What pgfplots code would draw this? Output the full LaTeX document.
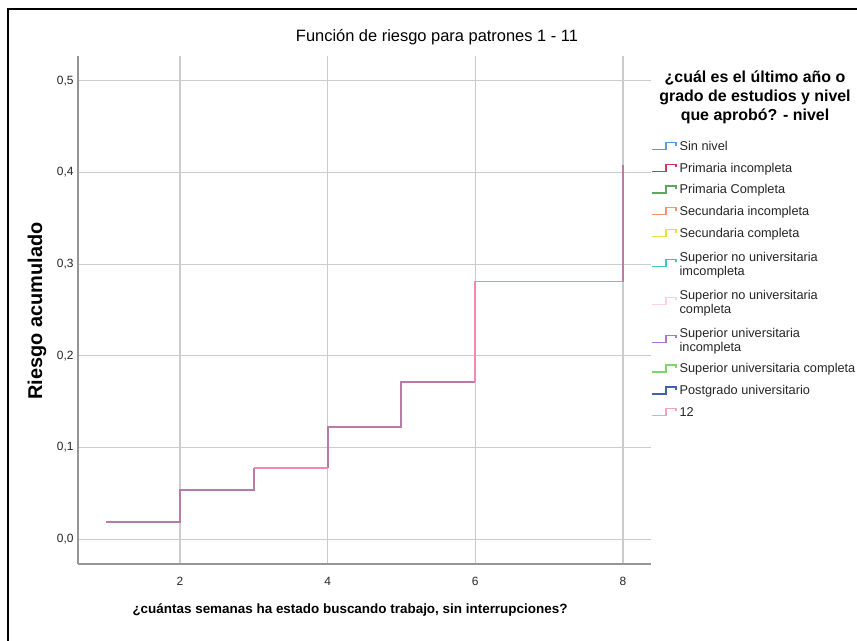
\documentclass[border=0pt]{standalone}
\usepackage{pgfplots}
\pgfplotsset{compat=1.18}
\usepackage{fontspec}
\setmainfont{Liberation Sans}
\definecolor{mauve}{HTML}{B87BA8}
\definecolor{rosa}{HTML}{F088B4}
\definecolor{gridc}{HTML}{CCCCCC}
\definecolor{axc}{HTML}{959595}
\definecolor{c1}{HTML}{5B9BE0}
\definecolor{c2}{HTML}{D6325A}
\definecolor{c3}{HTML}{5FA85F}
\definecolor{c4}{HTML}{F5956A}
\definecolor{c5}{HTML}{E8E040}
\definecolor{c6}{HTML}{40C8B8}
\definecolor{c7}{HTML}{FFD0E0}
\definecolor{c8}{HTML}{B070E0}
\definecolor{c9}{HTML}{80D860}
\definecolor{c10}{HTML}{4060B0}
\definecolor{c11}{HTML}{F4A0C4}
\newcommand{\dtop}{\rule{0pt}{11.5bp}}
\newcommand{\dbot}{\rule[-2.9bp]{0pt}{0pt}}
\begin{document}
\begin{tikzpicture}
\useasboundingbox (0,0) rectangle (857bp,641bp);
\fill[white] (0,0) rectangle (857bp,641bp);
\draw[black,line width=2bp] (8bp,0) -- (8bp,632bp) -- (857bp,632bp);
\begin{axis}[
  at={(78bp,77bp)}, anchor=south west,
  scale only axis, width=573bp, height=508bp,
  xmin=0.62, xmax=8.38, ymin=-0.027, ymax=0.527,
  xtick={2,4,6,8}, ytick={0,0.1,0.2,0.3,0.4,0.5},
  axis lines*=left,
  axis line style={-, axc, line width=1.5bp},
  major tick length=0pt,
  grid=major,
  major grid style={gridc, line width=1.2bp},
  /pgf/number format/assume math mode=true,
  tick label style={font=\fontsize{12}{14}\selectfont, text=black!85},
  yticklabel style={/pgf/number format/fixed, /pgf/number format/fixed zerofill, /pgf/number format/precision=1, /pgf/number format/use comma, xshift=-1bp},
  xticklabel style={yshift=-10bp},
  scaled y ticks=false,
  legend style={draw=none, fill=none, at={(1.0,0.8346)}, anchor=north west,
    font=\fontsize{12.8}{14}\selectfont, inner sep=0pt, row sep=9bp, column sep=2bp,
    cells={anchor=west, align=left}, nodes={inner sep=1bp, text=black!85}},
  legend cell align=left,
  legend image code/.code={\draw[#1, line width=1.4bp] (0bp,-3bp) -- (14bp,-3bp) -- (14bp,4bp) -- (24bp,4bp) -- (24bp,1bp);},
]
\addplot[mauve, line width=2bp, forget plot] coordinates {(1,0.019) (2,0.019) (2,0.054) (3,0.054) (3,0.078)};
\addplot[mauve, line width=2bp, forget plot] coordinates {(4,0.078) (4,0.122) (5,0.122) (5,0.171) (6,0.171)};
\addplot[mauve, line width=2bp, forget plot] coordinates {(8,0.281) (8,0.408)};
\addplot[draw=rosa, line width=1.6bp, forget plot] coordinates {(3,0.078) (4,0.078)};
\addplot[draw=rosa, line width=1.6bp, forget plot] coordinates {(6,0.171) (6,0.281) (8,0.281)};
\addlegendimage{c1}\addlegendentry{Sin nivel}
\addlegendimage{c2}\addlegendentry{Primaria incompleta}
\addlegendimage{c3}\addlegendentry{Primaria Completa}
\addlegendimage{c4}\addlegendentry{Secundaria incompleta}
\addlegendimage{c5}\addlegendentry{Secundaria completa}
\addlegendimage{c6}\addlegendentry{\dtop Superior no universitaria\\imcompleta\dbot}
\addlegendimage{c7}\addlegendentry{\dtop Superior no universitaria\\completa\dbot}
\addlegendimage{c8}\addlegendentry{\dtop Superior universitaria\\incompleta\dbot}
\addlegendimage{c9}\addlegendentry{Superior universitaria completa}
\addlegendimage{c10}\addlegendentry{Postgrado universitario}
\addlegendimage{c11}\addlegendentry{12}
\end{axis}
\node[font=\fontsize{16.5}{19}\selectfont] at (437bp,604bp) {Función de riesgo para patrones 1 - 11};
\node[font=\bfseries\fontsize{16}{19}\selectfont, align=center] at (755bp,544bp) {¿cuál es el último año o\\grado de estudios y nivel\\que aprobó? - nivel};
\node[font=\bfseries\fontsize{13.5}{16}\selectfont] at (350bp,31bp) {¿cuántas semanas ha estado buscando trabajo, sin interrupciones?};
\node[font=\bfseries\fontsize{20}{22}\selectfont, rotate=90] at (37bp,330bp) {Riesgo acumulado};
\end{tikzpicture}
\end{document}
